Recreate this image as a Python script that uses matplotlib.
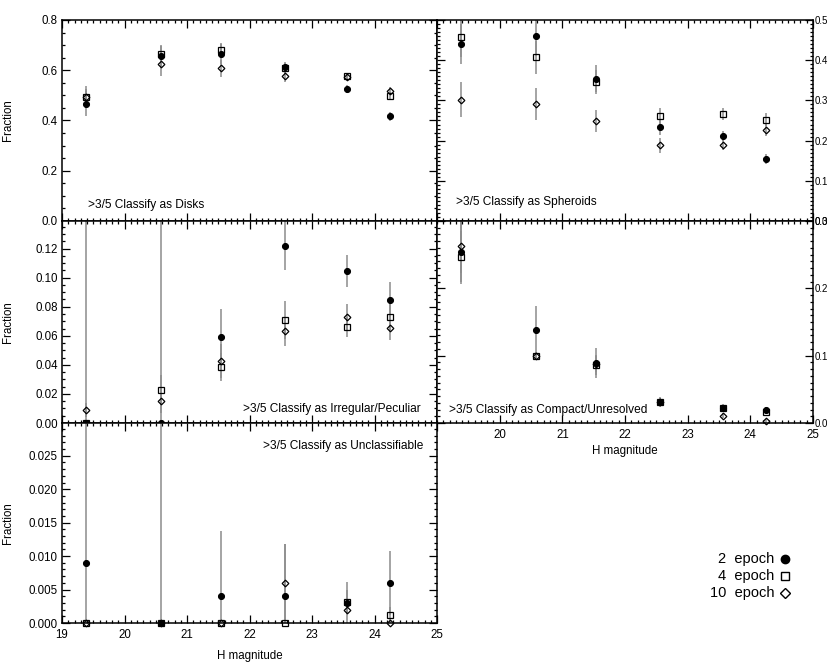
import numpy as np
import matplotlib.pyplot as plt
from matplotlib.ticker import MultipleLocator, FormatStrFormatter
from matplotlib.lines import Line2D

plt.rcParams['font.family'] = ['Liberation Sans', 'DejaVu Sans']

# H magnitude bins
mag = [19.38, 20.58, 21.54, 22.56, 23.56, 24.25]

# >3/5 classify as disks
disk_2ep = [0.466, 0.656, 0.663, 0.614, 0.525, 0.416]
disk_2ep_err = [0.050, 0.045, 0.040, 0.020, 0.015, 0.018]
disk_4ep = [0.494, 0.663, 0.680, 0.607, 0.577, 0.497]
disk_4ep_err = [0.045, 0.035, 0.027, 0.020, 0.013, 0.016]
disk_10ep = [0.494, 0.623, 0.607, 0.579, 0.574, 0.518]
disk_10ep_err = [0.030, 0.045, 0.033, 0.025, 0.010, 0.014]

# >3/5 classify as spheroids
sph_2ep = [0.440, 0.461, 0.354, 0.233, 0.211, 0.154]
sph_2ep_err = [0.050, 0.050, 0.034, 0.020, 0.013, 0.013]
sph_4ep = [0.457, 0.407, 0.346, 0.260, 0.265, 0.252]
sph_4ep_err = [0.050, 0.042, 0.030, 0.020, 0.015, 0.016]
sph_10ep = [0.302, 0.292, 0.249, 0.188, 0.189, 0.227]
sph_10ep_err = [0.044, 0.040, 0.027, 0.018, 0.012, 0.015]

# >3/5 classify as irregular/peculiar
irr_2ep = [0.0, 0.0, 0.0594, 0.122, 0.1046, 0.0849]
irr_2ep_err = [1.0, 1.0, 0.019, 0.017, 0.011, 0.012]
irr_4ep = [0.0, 0.0229, 0.0385, 0.0711, 0.066, 0.0727]
irr_4ep_err = [0.0, 0.010, 0.0095, 0.013, 0.007, 0.009]
irr_10ep = [0.009, 0.0151, 0.0427, 0.0631, 0.0727, 0.0654]
irr_10ep_err = [0.005, 0.008, 0.012, 0.010, 0.0095, 0.008]

# >3/5 classify as compact/unresolved
cmp_2ep = [0.2547, 0.138, 0.089, 0.031, 0.0217, 0.0187]
cmp_2ep_err = [0.045, 0.036, 0.022, 0.007, 0.006, 0.005]
cmp_4ep = [0.2458, 0.100, 0.086, 0.031, 0.0217, 0.0167]
cmp_4ep_err = [0.040, 0.006, 0.015, 0.006, 0.005, 0.004]
cmp_10ep = [0.2635, 0.100, 0.088, 0.031, 0.011, 0.003]
cmp_10ep_err = [0.040, 0.006, 0.012, 0.005, 0.004, 0.003]

# >3/5 classify as unclassifiable
unc_2ep = [0.009, 0.0, 0.004, 0.004, 0.003, 0.006]
unc_2ep_err = [1.0, 1.0, 0.0097, 0.0078, 0.0032, 0.0048]
unc_4ep = [0.0, 0.0, 0.0, 0.0, 0.0032, 0.0012]
unc_4ep_err = [0.0, 0.0, 0.0, 0.0, 0.0018, 0.0012]
unc_10ep = [0.0, 0.0, 0.0, 0.006, 0.002, 0.0]
unc_10ep_err = [0.0, 0.0, 0.0, 0.0058, 0.0007, 0.0]

ecol = '0.55'
fs = 8.3


def panel(ax, y2, e2, y4, e4, y10, e10, ymax, major, minor, fmt, right=False, xlab=False):
    for y, e in [(y10, e10), (y4, e4), (y2, e2)]:
        ax.errorbar(mag, y, yerr=e, fmt='none', ecolor=ecol, elinewidth=1.1, capsize=0, zorder=1)
    ax.plot(mag, y2, 'o', ms=4.3, mfc='k', mec='k', mew=0.8, clip_on=False, zorder=3)
    ax.plot(mag, y4, 's', ms=4.5, mfc='none', mec='k', mew=0.9, clip_on=False, zorder=4)
    ax.plot(mag, y10, 'D', ms=3.4, mfc='none', mec='k', mew=0.9, clip_on=False, zorder=5)
    ax.set_xlim(19, 25)
    ax.set_ylim(0, ymax)
    ax.xaxis.set_major_locator(MultipleLocator(1))
    ax.xaxis.set_minor_locator(MultipleLocator(0.1))
    ax.yaxis.set_major_locator(MultipleLocator(major))
    ax.yaxis.set_minor_locator(MultipleLocator(minor))
    ax.yaxis.set_major_formatter(FormatStrFormatter(fmt))
    ax.tick_params(which='both', direction='in', top=True, right=True, width=0.9)
    ax.tick_params(which='major', length=5.5)
    ax.tick_params(which='minor', length=2.5)
    ax.tick_params(axis='x', labelsize=fs, pad=4, labelbottom=xlab)
    if right:
        ax.tick_params(axis='y', labelleft=False, labelright=True, labelsize=7, pad=1)
    else:
        ax.tick_params(axis='y', labelsize=fs, pad=3)
        ax.set_ylabel('Fraction', fontsize=fs)
        ax.yaxis.set_label_coords(-0.128, 0.5)
    for s in ax.spines.values():
        s.set_linewidth(1.1)


fig = plt.figure(figsize=(8.3, 6.64), dpi=100)

lx, lw = 62 / 830, 375 / 830
rx, rw = 437 / 830, 376 / 830
ax_disk = fig.add_axes([lx, 1 - 221 / 664, lw, 201 / 664])
ax_sph = fig.add_axes([rx, 1 - 221 / 664, rw, 201 / 664])
ax_irr = fig.add_axes([lx, 1 - 423 / 664, lw, 202 / 664])
ax_cmp = fig.add_axes([rx, 1 - 423 / 664, rw, 202 / 664])
ax_unc = fig.add_axes([lx, 1 - 623 / 664, lw, 200 / 664])

panel(ax_disk, disk_2ep, disk_2ep_err, disk_4ep, disk_4ep_err, disk_10ep, disk_10ep_err,
      0.8, 0.2, 0.05, '%.1f')
panel(ax_sph, sph_2ep, sph_2ep_err, sph_4ep, sph_4ep_err, sph_10ep, sph_10ep_err,
      0.5, 0.1, 0.01, '%.1f', right=True)
panel(ax_irr, irr_2ep, irr_2ep_err, irr_4ep, irr_4ep_err, irr_10ep, irr_10ep_err,
      0.139, 0.02, 0.005, '%.2f')
panel(ax_cmp, cmp_2ep, cmp_2ep_err, cmp_4ep, cmp_4ep_err, cmp_10ep, cmp_10ep_err,
      0.3, 0.1, 0.01, '%.1f', right=True, xlab=True)
panel(ax_unc, unc_2ep, unc_2ep_err, unc_4ep, unc_4ep_err, unc_10ep, unc_10ep_err,
      0.0299, 0.005, 0.001, '%.3f', xlab=True)

# the 19 label of the right panel sits on the shared edge, leave it off
ax_cmp.set_xticks([20, 21, 22, 23, 24, 25])

for ax in [ax_cmp, ax_unc]:
    ax.set_xlabel('H magnitude', fontsize=fs)
ax_unc.xaxis.set_label_coords(0.5, -0.135)
ax_cmp.xaxis.set_label_coords(0.5, -0.11)

tk = dict(fontsize=8.6, va='center')
ax_disk.text(0.069, 0.08, '>3/5 Classify as Disks', transform=ax_disk.transAxes, **tk)
ax_sph.text(0.05, 0.095, '>3/5 Classify as Spheroids', transform=ax_sph.transAxes, **tk)
ax_irr.text(0.483, 0.07, '>3/5 Classify as Irregular/Peculiar', transform=ax_irr.transAxes, **tk)
ax_cmp.text(0.032, 0.064, '>3/5 Classify as Compact/Unresolved', transform=ax_cmp.transAxes, **tk)
ax_unc.text(0.963, 0.886, '>3/5 Classify as Unclassifiable', transform=ax_unc.transAxes,
            ha='right', **tk)

# legend
leg_labels = ['2  epoch', '4  epoch', '10  epoch']
leg_markers = [('o', 'k', 6.0), ('s', 'none', 6.0), ('D', 'none', 4.6)]
leg_y = [1 - 559 / 664, 1 - 576 / 664, 1 - 593 / 664]
for lab, (m, fc, ms), yy in zip(leg_labels, leg_markers, leg_y):
    fig.text(774 / 830, yy, lab, ha='right', va='center', fontsize=10.5)
    fig.add_artist(Line2D([785 / 830], [yy], marker=m, ms=ms, mfc=fc, mec='k', mew=1.0,
                          linestyle='none', transform=fig.transFigure))

fig.savefig('out.png', dpi=100)
